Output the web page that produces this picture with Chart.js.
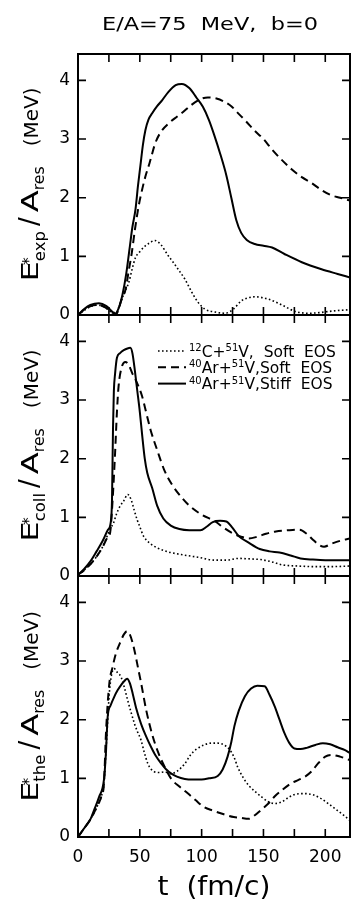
<!DOCTYPE html>
<html>
<head>
<meta charset="utf-8">
<script src="https://cdn.jsdelivr.net/npm/chart.js@4.4.1/dist/chart.umd.min.js"></script>
<style>
  html, body { margin: 0; padding: 0; background: #fff; }
  #wrap { position: relative; width: 352px; height: 899px; overflow: hidden; }
  #wrap canvas { position: absolute; left: 0; top: 0; }
</style>
</head>
<body>
<div id="wrap">
  <canvas id="cExp" width="352" height="899"></canvas>
  <canvas id="cColl" width="352" height="899"></canvas>
  <canvas id="cThe" width="352" height="899"></canvas>
</div>
<script>
// texts
const TITLE = 'E/A=75  MeV,  b=0';
const X_TITLE = 't  (fm/c)';
const X_TICKS = [0, 25, 50, 75, 100, 125, 150, 175, 200];
const X_LABELED = [0, 50, 100, 150, 200];
const Y_TICKS = [0, 1, 2, 3, 4];
// legend labels: [text, isSuperscript]
const LABEL_C_SOFT = [['12', 1], ['C+', 0], ['51', 1], ['V,  Soft  EOS', 0]];
const LABEL_AR_SOFT = [['40', 1], ['Ar+', 0], ['51', 1], ['V,Soft  EOS', 0]];
const LABEL_AR_STIFF = [['40', 1], ['Ar+', 0], ['51', 1], ['V,Stiff  EOS', 0]];

// [t (fm/c), E*/A_res (MeV)]
const expCSoft = [[0,0],[5,0.08],[10,0.14],[16,0.17],[22,0.13],[27,0.05],[31,0.04],[34,0.2],[38,0.4],[41,0.55],[44,0.8],[46.5,0.98],[50,1.08],[54.5,1.18],[58,1.23],[62,1.27],[67,1.2],[73,1.01],[77,0.9],[81,0.78],[86.5,0.61],[92,0.39],[97,0.22],[102.7,0.1],[111,0.05],[119,0.03],[125.7,0.1],[132,0.24],[137,0.29],[143,0.31],[154,0.27],[165,0.17],[175.7,0.06],[186.5,0.03],[195,0.04],[202.7,0.06],[212,0.08],[220,0.09]];
const expArSoft = [[0,0],[5,0.09],[10,0.15],[16,0.17],[22,0.13],[27,0.05],[31,0.02],[35,0.25],[38.5,0.44],[41,0.75],[43.5,1.06],[46,1.45],[49,1.85],[52,2.15],[54.5,2.36],[58,2.6],[62.5,2.93],[67,3.12],[74,3.28],[80,3.38],[85,3.46],[91,3.57],[98,3.67],[105,3.71],[112,3.69],[118,3.64],[124,3.56],[130,3.43],[136,3.3],[142,3.16],[150,3.0],[157,2.82],[165,2.64],[173,2.48],[181,2.35],[189,2.25],[197,2.13],[205,2.04],[212,2.0],[220,1.95]];
const expArStiff = [[0,0],[5,0.1],[10,0.17],[17,0.2],[23,0.15],[28,0.05],[30,0.02],[33,0.12],[36,0.35],[39,0.7],[42,1.18],[44,1.5],[46.5,1.8],[48.5,2.2],[50.5,2.55],[52.5,2.9],[54.5,3.15],[57,3.33],[60,3.44],[64,3.56],[68,3.66],[73,3.8],[79,3.92],[84,3.94],[90,3.87],[96,3.7],[101,3.55],[106,3.32],[110,3.08],[115,2.75],[120,2.38],[124,2.0],[128,1.62],[132,1.4],[136.5,1.28],[143,1.21],[150,1.18],[157,1.15],[167,1.04],[181,0.9],[197,0.78],[210,0.7],[220,0.64]];

const collCSoft = [[0,0.02],[5,0.1],[10,0.2],[15,0.33],[20,0.5],[24,0.7],[26.5,0.82],[28.7,0.9],[31,1.05],[34,1.19],[37,1.28],[40.2,1.39],[43,1.3],[45.5,1.12],[47.8,0.96],[50,0.84],[53,0.68],[58,0.56],[64,0.48],[70,0.43],[75,0.4],[85,0.36],[97,0.32],[111,0.27],[120,0.27],[130,0.3],[140,0.29],[148,0.28],[157,0.24],[165,0.19],[178,0.17],[192,0.16],[205,0.16],[220,0.17]];
const collArSoft = [[0,0.02],[5,0.1],[10,0.2],[15,0.33],[20,0.5],[24,0.66],[26,0.74],[28,1.3],[30,2.1],[31.5,2.8],[32.8,3.23],[35.5,3.57],[38.3,3.65],[41,3.6],[44,3.45],[47.8,3.29],[51.9,3.06],[55,2.8],[58.7,2.49],[64,2.15],[69.7,1.81],[76,1.56],[83,1.36],[90,1.2],[99.7,1.05],[111,0.93],[118,0.82],[125,0.73],[132,0.67],[138,0.64],[145,0.67],[152,0.72],[160,0.76],[170,0.78],[179,0.79],[185,0.72],[190,0.62],[195,0.53],[199,0.5],[205,0.55],[212,0.6],[220,0.64]];
const collArStiff = [[0,0.02],[5,0.12],[10,0.25],[15,0.42],[20,0.6],[24,0.78],[26.5,0.92],[27.5,1.3],[28.3,2.5],[29,3.15],[30,3.45],[31.5,3.72],[34,3.8],[37,3.85],[40,3.88],[42.3,3.89],[44,3.8],[46,3.5],[48,3.15],[50,2.8],[52,2.38],[54,2.0],[56,1.76],[60,1.5],[64,1.2],[69,0.98],[75,0.86],[82,0.8],[90,0.78],[99,0.78],[104,0.84],[109,0.92],[115,0.94],[120,0.93],[125,0.82],[130,0.68],[138,0.57],[147,0.46],[155,0.42],[163,0.4],[172,0.35],[180,0.3],[190,0.28],[200,0.27],[210,0.27],[220,0.27]];

const theCSoft = [[0,0],[5,0.15],[10,0.3],[15,0.5],[19,0.7],[21,0.91],[23,1.6],[25.3,2.44],[27,2.75],[29.3,2.87],[32,2.8],[34.8,2.73],[37.5,2.55],[40.2,2.33],[43,2.12],[45.7,1.93],[48,1.8],[51,1.65],[53.5,1.45],[56.5,1.25],[59,1.16],[62,1.11],[66,1.1],[70,1.11],[75.5,1.08],[80,1.12],[86.4,1.25],[91,1.4],[96,1.5],[102,1.57],[108,1.6],[113,1.6],[119,1.56],[124,1.45],[127,1.32],[129,1.2],[134,1.0],[138,0.88],[143,0.78],[148.7,0.68],[154,0.6],[159.4,0.57],[165,0.6],[170,0.67],[176,0.73],[183,0.74],[190,0.72],[197,0.65],[203,0.56],[210,0.45],[215,0.37],[220,0.28]];
const theArSoft = [[0,0],[5,0.15],[10,0.3],[15,0.5],[19,0.7],[21,0.91],[22.6,1.76],[25.3,2.61],[28,2.9],[30.7,3.13],[34.8,3.35],[37,3.45],[39.7,3.51],[42,3.45],[44.3,3.3],[46.5,3.1],[48.4,2.9],[51,2.63],[55.2,2.16],[60,1.75],[64.7,1.45],[70,1.2],[75.5,0.99],[82,0.86],[89,0.74],[95,0.63],[102,0.51],[109,0.45],[116,0.4],[126,0.34],[131,0.33],[138,0.31],[143,0.37],[148,0.46],[154,0.57],[159,0.69],[165,0.8],[172,0.91],[178,0.97],[183,1.02],[189,1.12],[194,1.25],[200,1.37],[205,1.4],[212,1.37],[220,1.31]];
const theArStiff = [[0,0],[5,0.15],[10,0.3],[13,0.46],[17,0.68],[21,0.98],[22.5,1.4],[24,2.05],[26.5,2.25],[29.3,2.39],[32,2.5],[34.8,2.59],[37.5,2.66],[39.7,2.7],[42,2.62],[44.3,2.44],[47,2.2],[51,1.93],[55,1.72],[59.2,1.53],[63,1.38],[67.4,1.25],[71,1.16],[75.5,1.08],[80,1.03],[86.4,0.99],[93,0.98],[100,0.98],[106,1.0],[113,1.04],[117,1.15],[121,1.37],[124,1.62],[126.5,1.89],[130,2.15],[135,2.4],[140,2.53],[145,2.58],[151,2.57],[155,2.42],[159,2.23],[163,2.0],[167,1.77],[171,1.6],[175,1.51],[180,1.5],[185,1.52],[192,1.57],[198,1.6],[204,1.58],[210,1.53],[216,1.48],[220,1.43]];

const FONT = '"DejaVu Sans", sans-serif';

function toXY(pts) {
  return pts.map(p => ({ x: p[0], y: p[1] }));
}

function makeDatasets(cSoft, arSoft, arStiff) {
  return [
    { label: LABEL_C_SOFT, data: toXY(cSoft), borderColor: '#000', borderWidth: 1.6, borderDash: [1.6, 2.4] },
    { label: LABEL_AR_SOFT, data: toXY(arSoft), borderColor: '#000', borderWidth: 2, borderDash: [8, 5] },
    { label: LABEL_AR_STIFF, data: toXY(arStiff), borderColor: '#000', borderWidth: 2 },
  ];
}

// draws a run of text pieces; each piece: {t, size, dy, sx, gap}
function drawRun(ctx, pieces, x, y) {
  pieces.forEach(p => {
    ctx.font = p.size + 'px ' + FONT;
    const w = ctx.measureText(p.t).width * (p.sx || 1);
    ctx.save();
    ctx.translate(x, y + (p.dy || 0));
    ctx.scale(p.sx || 1, 1);
    ctx.fillText(p.t, 0, 0);
    ctx.restore();
    x += w + (p.gap || 0);
  });
  return x;
}

function runWidth(ctx, pieces) {
  let w = 0;
  pieces.forEach(p => {
    ctx.font = p.size + 'px ' + FONT;
    w += ctx.measureText(p.t).width * (p.sx || 1) + (p.gap || 0);
  });
  return w;
}

const framePlugin = {
  id: 'frame',
  afterDatasetsDraw(chart) {
    const { ctx, chartArea: a, scales: { x, y } } = chart;
    ctx.save();
    ctx.strokeStyle = '#000';
    ctx.lineWidth = 2;
    ctx.strokeRect(a.left, a.top, a.right - a.left, a.bottom - a.top);
    ctx.lineWidth = 1.6;
    ctx.beginPath();
    X_TICKS.forEach(v => {
      const px = x.getPixelForValue(v);
      ctx.moveTo(px, a.top); ctx.lineTo(px, a.top + 8);
      ctx.moveTo(px, a.bottom); ctx.lineTo(px, a.bottom - 8);
    });
    Y_TICKS.forEach(v => {
      const py = y.getPixelForValue(v);
      ctx.moveTo(a.left, py); ctx.lineTo(a.left + 8, py);
      ctx.moveTo(a.right, py); ctx.lineTo(a.right - 8, py);
    });
    ctx.stroke();
    ctx.restore();
  }
};

const textPlugin = {
  id: 'texts',
  afterDraw(chart, args, opts) {
    const { ctx, chartArea: a } = chart;
    ctx.save();
    ctx.fillStyle = '#000';
    ctx.textBaseline = 'alphabetic';

    // y axis title, rotated: E*_sub / A_res  (MeV)
    const big = 23, small = 15;
    const head = { t: 'E', size: big, sx: 1.4 };
    const tail = [
      { t: opts.sub, size: small, dy: 7, sx: 1.1, gap: 5 },
      { t: '/', size: 26, gap: 5 },
      { t: 'A', size: big, sx: 1.4 },
      { t: 'res', size: small, dy: 6, sx: 1.05, gap: 20 },
      { t: '(MeV)', size: 20 },
    ];
    const total = runWidth(ctx, [head]) + runWidth(ctx, tail);
    ctx.save();
    ctx.translate(38, (a.top + a.bottom) / 2);
    ctx.rotate(-Math.PI / 2);
    const u = -total / 2;
    const afterE = drawRun(ctx, [head], u, 0);
    drawRun(ctx, [{ t: '*', size: 16 }], afterE - 4, -4);
    drawRun(ctx, tail, afterE, 0);
    ctx.restore();

    if (opts.title) {
      ctx.font = '18px ' + FONT;
      const w = ctx.measureText(opts.title).width;
      ctx.save();
      ctx.translate(210 - 108, 30);
      ctx.scale(216 / w, 1);
      ctx.fillText(opts.title, 0, 0);
      ctx.restore();
    }

    if (opts.xTitle) {
      ctx.font = '26px ' + FONT;
      const w = ctx.measureText(opts.xTitle).width;
      ctx.save();
      ctx.translate((a.left + a.right) / 2 - 56.5, 895);
      ctx.scale(113 / w, 1);
      ctx.fillText(opts.xTitle, 0, 0);
      ctx.restore();
    }

    if (opts.legend) {
      chart.data.datasets.forEach((ds, i) => {
        const y = a.top + 36 + i * 16.3;
        ctx.save();
        ctx.strokeStyle = ds.borderColor;
        ctx.lineWidth = ds.borderWidth;
        ctx.setLineDash(ds.borderDash || []);
        ctx.beginPath();
        ctx.moveTo(158, y);
        ctx.lineTo(186, y);
        ctx.stroke();
        ctx.restore();
        const run = ds.label.map(s => s[1]
          ? { t: s[0], size: 10, dy: 0 }
          : { t: s[0], size: 15.5, dy: 5.5 });
        drawRun(ctx, run, 189, y);
      });
    }
    ctx.restore();
  }
};

function makePanel(id, datasets, pad, showX, texts) {
  return new Chart(document.getElementById(id), {
    type: 'line',
    data: { datasets },
    options: {
      responsive: false,
      animation: false,
      devicePixelRatio: 1,
      layout: { padding: { top: pad.top, bottom: pad.bottom, left: 0, right: 2 } },
      elements: {
        point: { radius: 0 },
        line: { cubicInterpolationMode: 'monotone', fill: false }
      },
      plugins: {
        legend: { display: false },
        tooltip: { enabled: false },
        texts: texts
      },
      scales: {
        x: {
          type: 'linear',
          min: 0,
          max: 220,
          display: showX,
          grid: { display: false, drawTicks: false },
          border: { display: false },
          afterBuildTicks: s => { s.ticks = X_TICKS.map(v => ({ value: v })); },
          afterFit: s => { if (showX) s.height = 62; },
          ticks: {
            autoSkip: false,
            maxRotation: 0,
            padding: 10,
            color: '#000',
            font: { family: FONT, size: 17 },
            callback: v => X_LABELED.includes(v) ? String(v) : ''
          }
        },
        y: {
          type: 'linear',
          min: 0,
          max: 4.45,
          grid: { display: false, drawTicks: false },
          border: { display: false },
          afterBuildTicks: s => { s.ticks = Y_TICKS.map(v => ({ value: v })); },
          afterFit: s => { s.width = 78; },
          ticks: {
            padding: 8,
            color: '#000',
            font: { family: FONT, size: 17 }
          }
        }
      }
    },
    plugins: [framePlugin, textPlugin]
  });
}

makePanel('cExp', makeDatasets(expCSoft, expArSoft, expArStiff),
  { top: 54, bottom: 899 - 315 }, false, { sub: 'exp', title: TITLE });
makePanel('cColl', makeDatasets(collCSoft, collArSoft, collArStiff),
  { top: 315, bottom: 899 - 576 }, false, { sub: 'coll', legend: true });
makePanel('cThe', makeDatasets(theCSoft, theArSoft, theArStiff),
  { top: 576, bottom: 0 }, true, { sub: 'the', xTitle: X_TITLE });
</script>
</body>
</html>
